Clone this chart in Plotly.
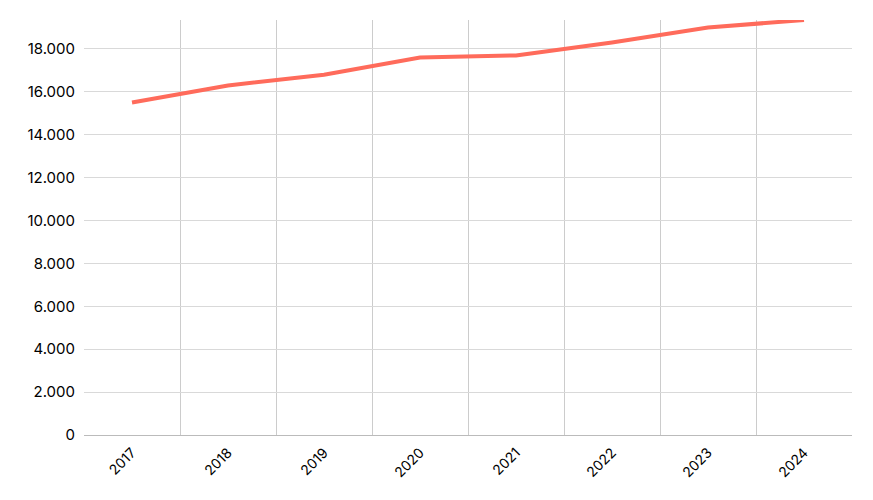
import plotly.graph_objects as go

years = ["2017", "2018", "2019", "2020", "2021", "2022", "2023", "2024"]
values = [15500, 16300, 16800, 17600, 17700, 18300, 19000, 19350]

fig = go.Figure()
fig.add_trace(go.Scatter(
    x=years, y=values, mode="lines",
    line=dict(color="#FF6B5B", width=4),
    hoverinfo="x+y",
))

fig.update_layout(
    width=873, height=500,
    margin=dict(l=76, r=29, t=12, b=73, autoexpand=False),
    paper_bgcolor="white", plot_bgcolor="white",
    font=dict(family="Inter", size=15, color="#000000"),
    separators=",.",
    showlegend=False,
)
fig.update_xaxes(
    type="category", tickson="boundaries", tickangle=-45,
    range=[-0.5, len(years) - 0.5],
    showgrid=True, gridcolor="#cccccc", gridwidth=1,
    showline=True, linecolor="#bbbbbb", linewidth=1,
    ticks="", tickfont=dict(size=14), ticklabelstandoff=3,
)
fig.update_yaxes(
    range=[0, 19350], tickformat=",d", dtick=2000,
    showgrid=True, gridcolor="#d9d9d9", gridwidth=1,
    zeroline=False, showline=False, ticks="",
    tickfont=dict(size=15), ticklabelstandoff=8,
)

fig.write_html("out.html")
